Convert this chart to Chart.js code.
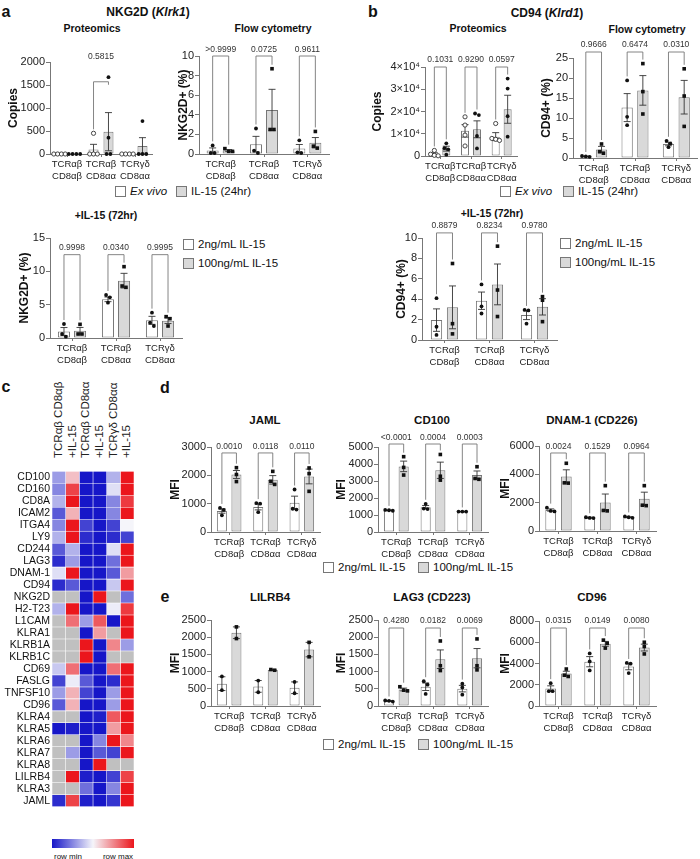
<!DOCTYPE html>
<html>
<head>
<meta charset="utf-8">
<script src="https://cdn.jsdelivr.net/npm/chart.js@4"></script>
<style>
body { margin: 0; width: 700px; height: 859px; position: relative; overflow: hidden; background: #fff;
       font-family: "Liberation Sans", Arial, sans-serif; color: #111; }
canvas { position: absolute; }
.t { position: absolute; white-space: nowrap; transform: translate(-50%, -50%); font-weight: bold; }
.lg { position: absolute; white-space: nowrap; font-size: 11.5px; display: flex; align-items: center; transform: translateY(-50%); }
.lg b { display: inline-block; width: 9px; height: 9px; border: 1px solid #777; margin-right: 4px; }
.col { position: absolute; white-space: nowrap; font-size: 11.5px; color: #222; line-height: 1;
       transform-origin: 0 0; transform: rotate(-90deg) translateY(-50%); }
</style>
</head>
<body>
<script>
const FONT = '"Liberation Sans", Arial, sans-serif';
const groups = [['TCRαβ', 'CD8αβ'], ['TCRαβ', 'CD8αα'], ['TCRγδ', 'CD8αα']];

// a - NKG2D proteomics (ex vivo / IL-15 24hr)
const nkProtMean = [[0, 100, 0], [0, 485, 175]];
const nkProtSem = [[0, 110, 0], [0, 415, 180]];
const nkProtPts = [[[0, 0, 0, 0], [450, 0, 0, 0], [0, 0, 0, 0]], [[0, 0, 0, 0], [1670, 355, 0, 0], [715, 0, 0, 0]]];
const nkProtP = ['', '0.5815', ''];
// a - NKG2D flow
const nkFlowMean = [[0.35, 1.0, 0.55], [0.36, 4.5, 1.15]];
const nkFlowSem = [[0.27, 0.8, 0.42], [0.09, 2.1, 0.53]];
const nkFlowPts = [[[0.88, 0.1, 0.1], [2.6, 0.35, 0.1], [1.4, 0.1, 0.17]], [[0.55, 0.27, 0.27], [8.7, 2.5, 2.5], [2.3, 0.8, 0.6]]];
const nkFlowP = ['>0.9999', '0.0725', '0.9611'];
// a - NKG2D +IL-15 72hr
const nk72Mean = [[0.97, 5.8, 2.65], [1.08, 8.6, 2.6]];
const nk72Sem = [[0.6, 0.35, 0.6], [0.5, 1.1, 0.43]];
const nk72Pts = [[[2.1, 0.6, 0.2], [6.45, 6.1, 5.3], [3.8, 2.3, 1.8]], [[2.05, 0.6, 0.6], [10.7, 7.8, 7.6], [3.2, 2.9, 1.8]]];
const nk72P = ['0.9998', '0.0340', '0.9995'];
// b - CD94 proteomics
const cdProtMean = [[900, 11300, 8700], [3300, 12000, 21000]];
const cdProtSem = [[550, 2800, 1800], [1100, 3800, 6300]];
const cdProtPts = [[[2500, 800, 300, 100], [17600, 13900, 9400, 4500], [14600, 7900, 7500, 7000]], [[5700, 3500, 3000, 600], [19100, 18400, 9000, 3400], [34800, 30300, 17900, 8700]]];
const cdProtP = ['0.1031', '0.9290', '0.0597'];
// b - CD94 flow
const cdFlowMean = [[0.4, 12.6, 3.5], [2.1, 16.9, 15.2]];
const cdFlowSem = [[0.06, 3.5, 0.45], [0.8, 3.7, 4.2]];
const cdFlowPts = [[[0.5, 0.4, 0.3], [19.4, 10.3, 8.2], [4.3, 3.6, 2.7]], [[3.5, 1.6, 1.2], [23.6, 16.6, 11.0], [22.3, 15.5, 7.9]]];
const cdFlowP = ['0.9666', '0.6474', '0.0310'];
// b - CD94 +IL-15 72hr
const cd72Mean = [[1.95, 3.85, 2.45], [3.2, 5.45, 3.25]];
const cd72Sem = [[1.1, 0.85, 0.45], [2.1, 2.0, 0.8]];
const cd72Pts = [[[4.1, 1.3, 0.5], [5.45, 3.3, 2.6], [2.95, 2.9, 1.6]], [[7.5, 1.6, 0.6], [9.2, 4.9, 2.3], [4.25, 3.9, 1.8]]];
const cd72P = ['0.8879', '0.8234', '0.9780'];
// d - MFI (2ng / 100ng IL-15)
const jamlMean = [[740, 880, 1035], [2030, 1840, 1960]];
const jamlSem = [[77, 100, 230], [140, 150, 260]];
const jamlPts = [[[850, 780, 590], [1020, 1000, 700], [1500, 820, 790]], [[2270, 2030, 1780], [2140, 1790, 1680], [2260, 2060, 1435]]];
const jamlP = ['0.0010', '0.0118', '0.0110'];
const cd100Mean = [[1275, 1460, 1200], [3860, 3630, 3360]];
const cd100Sem = [[15, 100, 10], [310, 480, 230]];
const cd100Pts = [[[1300, 1280, 1250], [1660, 1380, 1350], [1200, 1200, 1200]], [[4430, 3800, 3350], [4560, 3280, 3050], [3840, 3150, 3100]]];
const cd100P = ['<0.0001', '0.0004', '0.0003'];
const dnamMean = [[1480, 940, 970], [3850, 2020, 2270]];
const dnamSem = [[80, 30, 30], [470, 590, 470]];
const dnamPts = [[[1650, 1420, 1380], [970, 920, 910], [1030, 970, 930]], [[4780, 3400, 3380], [3200, 1450, 1420], [3200, 1820, 1790]]];
const dnamP = ['0.0024', '0.1529', '0.0964'];
// e - MFI
const lilrMean = [[650, 570, 530], [2130, 1050, 1640]];
const lilrSem = [[200, 170, 170], [170, 10, 210]];
const lilrPts = [[[860, 460], [740, 400], [700, 370]], [[2300, 1960], [1040, 1060], [1850, 1430]]];
const lag3Mean = [[145, 560, 505], [480, 1360, 1390]];
const lag3Sem = [[10, 110, 95], [40, 270, 280]];
const lag3Pts = [[[160, 150, 130], [720, 620, 350], [650, 540, 330]], [[560, 460, 440], [1890, 1170, 1030], [1950, 1170, 1050]]];
const lag3P = ['0.4280', '0.0182', '0.0069'];
const cd96Mean = [[1650, 4170, 3710], [3050, 5850, 5500]];
const cd96Sem = [[250, 480, 300], [220, 230, 320]];
const cd96Pts = [[[2150, 1400, 1400], [4950, 4200, 3350], [4050, 3980, 3100]], [[3480, 2900, 2780], [6200, 5900, 5450], [6000, 5600, 4900]]];
const cd96P = ['0.0315', '0.0149', '0.0080'];

// c - heatmap (0 = row min, 1 = row max, null = not detected)
const heatCols = ['TCRαβ CD8αβ', '+IL-15', 'TCRαβ CD8αα', '+IL-15', 'TCRγδ CD8αα', '+IL-15'];
const heatGenes = ['CD100', 'CD160', 'CD8A', 'ICAM2', 'ITGA4', 'LY9', 'CD244', 'LAG3', 'DNAM-1', 'CD94',
  'NKG2D', 'H2-T23', 'L1CAM', 'KLRA1', 'KLRB1A', 'KLRB1C', 'CD69', 'FASLG', 'TNFSF10', 'CD96',
  'KLRA4', 'KLRA5', 'KLRA6', 'KLRA7', 'KLRA8', 'LILRB4', 'KLRA3', 'JAML'];
const heatVals = [
  [0.3, 0.62, 0, 0, 0.35, 1],
  [0.25, 0.9, 0, 0, 0.45, 1],
  [0.35, 1, 0, 0, 0.25, 0.92],
  [0.15, 0.65, 0, 0, 0.25, 1],
  [0.25, 1, 0.1, 0, 0.1, 0.5],
  [0.35, 1, 0.05, 0, 0.05, 0.1],
  [0.15, 0.35, 0, 0, 0.45, 1],
  [0.05, 0.3, 0, 0, 0.2, 1],
  [0.45, 1, 0, 0, 0.15, 0.7],
  [0.05, 0.15, 0, 0, 0.4, 1],
  [null, null, 0, 1, null, 0.2],
  [0.35, 1, 0, 0, 0.48, 0.92],
  [null, 0.8, 0.3, 0.85, 0, 1],
  [null, null, 0, 0.7, null, 1],
  [null, null, 1, 0, 0.75, 0.3],
  [null, null, 1, 0, null, null],
  [0.4, 0.8, 0, 0, 0.8, 1],
  [0.1, 0.48, 0.15, 0, 0.05, 1],
  [0.3, 0.65, 0.1, 0, 0.3, 1],
  [0.15, 0.65, 0, 0, 0.3, 1],
  [null, null, 0, 0.02, 0.85, 1],
  [0, 0.02, 0, 0, 0.7, 1],
  [null, null, 0, 0.25, 1, 0.75],
  [null, 0.3, 0, 0.15, 0.1, 1],
  [null, null, 0, 1, null, null],
  [null, 1, 0.02, 0, 0.1, 0.9],
  [null, null, 0.2, 0, 0.25, 1],
  [0.05, 0.9, 0.02, 0, 0.07, 1]
];

// ---------- heatmap (built first, own scale ids) ----------
function heatColor(v) {
  if (v === null) return 'rgb(192,192,192)';
  const B = [22, 22, 200], W = [245, 245, 250], R = [235, 22, 28];
  const [a, b, t] = v < 0.5 ? [B, W, v / 0.5] : [W, R, (v - 0.5) / 0.5];
  return 'rgb(' + a.map((c, i) => Math.round(c + (b[i] - c) * t)).join(',') + ')';
}
const hc = document.createElement('canvas');
hc.width = 136; hc.height = 352;
hc.style.left = '0px'; hc.style.top = '463px';
hc.style.width = '136px'; hc.style.height = '352px';
document.body.appendChild(hc);
const heat = new Chart(hc, {
  type: 'bar',
  data: {
    labels: heatGenes,
    datasets: heatCols.map((c, k) => ({
      label: c, xAxisID: 'hx', yAxisID: 'hy',
      data: heatGenes.map(() => 1),
      backgroundColor: heatVals.map(r => heatColor(r[k])),
      borderColor: 'rgba(255,255,255,0.75)', borderWidth: 0.6, borderSkipped: false,
      categoryPercentage: 1, barPercentage: 1
    }))
  },
  options: {
    indexAxis: 'y', responsive: false, maintainAspectRatio: false, animation: false, devicePixelRatio: 1,
    layout: { autoPadding: false, padding: { left: 0, top: 0, right: 2, bottom: 0 } },
    plugins: { legend: { display: false }, tooltip: { enabled: false } },
    scales: {
      hx: { axis: 'x', type: 'linear', position: 'bottom', stacked: true, min: 0, max: 6, display: false,
            afterFit: sc => { sc.height = 0; } },
      hy: {
        axis: 'y', type: 'category', position: 'left', stacked: true, offset: true,
        grid: { display: false, drawTicks: false }, border: { display: false },
        ticks: { color: '#111', font: { size: 10.5, family: FONT }, padding: 2, autoSkip: false },
        afterFit: sc => { sc.width = 52; }
      }
    }
  }
});
// column labels, rotated, centred on the columns of the chart's x scale
heatCols.forEach((c, k) => {
  const d = document.createElement('div');
  d.className = 'col';
  d.textContent = c;
  d.style.left = heat.scales.hx.getPixelForValue(k + 0.5) + 'px';
  d.style.top = '458px';
  document.body.appendChild(d);
});
const cbar = document.createElement('div');
Object.assign(cbar.style, { position: 'absolute', left: '52px', top: '839px', width: '82px', height: '9px',
  background: 'linear-gradient(to right, rgb(22,22,200), rgb(245,245,250), rgb(235,22,28))' });
document.body.appendChild(cbar);

// ---------- text / legends ----------
function txt(html, x, y, size, extra) {
  const d = document.createElement('div');
  d.className = 't';
  d.style.left = x + 'px'; d.style.top = y + 'px'; d.style.fontSize = size + 'px';
  if (extra) Object.assign(d.style, extra);
  d.innerHTML = html;
  document.body.appendChild(d);
}
function legend(x, y, fill, label) {
  const d = document.createElement('div');
  d.className = 'lg';
  d.style.left = x + 'px'; d.style.top = y + 'px';
  d.innerHTML = `<b style="background:${fill}"></b><span>${label}</span>`;
  document.body.appendChild(d);
}

txt('row min', 68, 856, 8, { fontWeight: 'normal' });
txt('row max', 118, 856, 8, { fontWeight: 'normal' });
[['a', 6, 12], ['b', 373, 12], ['c', 6, 387], ['d', 165, 388], ['e', 165, 597]]
  .forEach(([s, x, y]) => txt(s, x, y, 16));
txt('NKG2D (<i>Klrk1</i>)', 148, 12, 12);
txt('Proteomics', 92, 28, 10.5);
txt('Flow cytometry', 273, 28, 10.5);
txt('+IL-15 (72hr)', 106, 215, 10.5);
txt('CD94 (<i>Klrd1</i>)', 547, 13, 12);
txt('Proteomics', 478, 28, 10.5);
txt('Flow cytometry', 647, 29, 10.5);
txt('+IL-15 (72hr)', 492, 213, 10.5);
txt('JAML', 265, 420, 11.5); txt('CD100', 432, 420, 11.5); txt('DNAM-1 (CD226)', 592, 420, 11.5);
txt('LILRB4', 270, 597, 11.5); txt('LAG3 (CD223)', 432, 597, 11.5); txt('CD96', 592, 597, 11.5);

const WHITE = '#ffffff', GREY = '#d9d9d9';
legend(115, 191, WHITE, '<i>Ex vivo</i>'); legend(176, 191, GREY, 'IL-15 (24hr)');
legend(500, 191, WHITE, '<i>Ex vivo</i>'); legend(563, 191, GREY, 'IL-15 (24hr)');
legend(183, 244, WHITE, '2ng/mL IL-15'); legend(183, 263, GREY, '100ng/mL IL-15');
legend(560, 243, WHITE, '2ng/mL IL-15'); legend(560, 262, GREY, '100ng/mL IL-15');
legend(323, 567, WHITE, '2ng/mL IL-15'); legend(418, 567, GREY, '100ng/mL IL-15');
legend(323, 744, WHITE, '2ng/mL IL-15'); legend(418, 744, GREY, '100ng/mL IL-15');

// ---------- bar charts ----------
function drawDot(ctx, x, y, shape) {
  if (shape === 'square') { ctx.fillRect(x - 1.8, y - 1.8, 3.6, 3.6); return; }
  ctx.beginPath();
  ctx.arc(x, y, shape === 'hollow' ? 2.1 : 1.9, 0, Math.PI * 2);
  if (shape === 'hollow') { ctx.fillStyle = '#fff'; ctx.fill(); ctx.stroke(); ctx.fillStyle = '#111'; }
  else ctx.fill();
}

function makeExtras(s) {
  return {
    id: 'extras_' + s.id,
    afterDatasetsDraw(chart) {
      const ctx = chart.ctx, ys = chart.scales.y, ca = chart.chartArea;
      ctx.save();
      // y title
      ctx.save();
      ctx.translate(8, (ca.top + ca.bottom) / 2);
      ctx.rotate(-Math.PI / 2);
      ctx.font = 'bold 12px ' + FONT; ctx.textAlign = 'center'; ctx.textBaseline = 'middle'; ctx.fillStyle = '#111';
      ctx.fillText(s.title, 0, 0);
      ctx.restore();

      const tops = [[], []];
      for (let d = 0; d < 2; d++) {
        chart.getDatasetMeta(d).data.forEach((el, j) => {
          const m = s.mean[d][j], e = s.sem[d][j], x = el.x;
          ctx.strokeStyle = '#333'; ctx.fillStyle = '#111'; ctx.lineWidth = 0.9;
          if (e > 0) {
            const y1 = ys.getPixelForValue(m + e), y2 = ys.getPixelForValue(Math.max(0, m - e));
            ctx.beginPath();
            ctx.moveTo(x, y1); ctx.lineTo(x, y2);
            ctx.moveTo(x - 3.5, y1); ctx.lineTo(x + 3.5, y1);
            ctx.moveTo(x - 3.5, y2); ctx.lineTo(x + 3.5, y2);
            ctx.stroke();
          }
          const pts = s.pts[d][j].map(v => ({ v, py: ys.getPixelForValue(v) })).sort((a, b) => a.py - b.py);
          let i = 0;
          while (i < pts.length) {
            let k = i;
            while (k + 1 < pts.length && pts[k + 1].py - pts[k].py < 3.5) k++;
            const n = k - i + 1;
            for (let q = i; q <= k; q++) drawDot(ctx, x + (q - i - (n - 1) / 2) * 3.8, pts[q].py, s.shapes[d]);
            i = k + 1;
          }
          tops[d][j] = ys.getPixelForValue(Math.max(m + e, ...s.pts[d][j]));
        });
      }
      if (s.p) {
        const top = ys.getPixelForValue(s.br);
        ctx.strokeStyle = '#777'; ctx.lineWidth = 0.9;
        ctx.font = '8.5px ' + FONT; ctx.textAlign = 'center'; ctx.textBaseline = 'middle'; ctx.fillStyle = '#333';
        s.p.forEach((p, j) => {
          if (!p) return;
          const xa = chart.getDatasetMeta(0).data[j].x, xb = chart.getDatasetMeta(1).data[j].x;
          const ya = Math.max(top + 3, tops[0][j] - 4), yb = Math.max(top + 3, tops[1][j] - 4);
          ctx.beginPath();
          ctx.moveTo(xa, ya); ctx.lineTo(xa, top); ctx.lineTo(xb, top); ctx.lineTo(xb, yb);
          ctx.stroke();
          ctx.fillText(p, (xa + xb) / 2, top - s.gap);
        });
      }
      ctx.restore();
    }
  };
}

function barChart(s) {
  const left = s.titleX - 8, top = s.yt - 34;
  const w = s.xr - left + 3, h = s.yb - top + 32;
  const cv = document.createElement('canvas');
  cv.width = w; cv.height = h;
  cv.style.left = left + 'px'; cv.style.top = top + 'px';
  cv.style.width = w + 'px'; cv.style.height = h + 'px';
  document.body.appendChild(cv);
  const ds = (d, fill) => ({
    data: s.mean[d], backgroundColor: fill, borderColor: '#777', borderWidth: 1, borderSkipped: false,
    categoryPercentage: s.cp, barPercentage: s.bp
  });
  new Chart(cv, {
    type: 'bar',
    data: { labels: groups, datasets: [ds(0, WHITE), ds(1, GREY)] },
    options: {
      responsive: false, maintainAspectRatio: false, animation: false, devicePixelRatio: 1,
      layout: { autoPadding: false, padding: { left: 0, top: 34, right: 3, bottom: 0 } },
      plugins: { legend: { display: false }, tooltip: { enabled: false } },
      scales: {
        x: {
          grid: { drawOnChartArea: false, offset: false, tickLength: 3, color: '#777' },
          border: { color: '#777', width: 1 },
          ticks: { color: '#222', font: { size: 9.5, family: FONT, lineHeight: 1.3 }, padding: 1, maxRotation: 0, autoSkip: false },
          afterFit: sc => { sc.height = 32; }
        },
        y: {
          min: 0, max: s.max,
          grid: { drawOnChartArea: false, tickLength: 4, color: '#777' },
          border: { color: '#777', width: 1 },
          ticks: { stepSize: s.step, color: '#222', font: { size: 11, family: FONT }, padding: 1,
                   callback: s.fmt || (v => v) },
          afterFit: sc => { sc.width = s.xl - left; }
        }
      }
    },
    plugins: [makeExtras(s)]
  });
}

const sci = v => v === 0 ? '0' : (v / 10000) + '×10⁴';
const OPEN = ['hollow', 'dot'], FILL = ['dot', 'square'];
const specs = [
  { id: 'a1', xl: 50, xr: 152, yt: 62, yb: 154, max: 2000, step: 500, titleX: 14, title: 'Copies', cp: 0.88, bp: 0.67,
    mean: nkProtMean, sem: nkProtSem, pts: nkProtPts, p: nkProtP, br: 1570, gap: 25, shapes: OPEN },
  { id: 'a2', xl: 199, xr: 329, yt: 56, yb: 154, max: 10, step: 2, titleX: 184, title: 'NKG2D+ (%)', cp: 0.74, bp: 0.75,
    mean: nkFlowMean, sem: nkFlowSem, pts: nkFlowPts, p: nkFlowP, br: 10, gap: 6, shapes: FILL },
  { id: 'a3', xl: 50, xr: 182, yt: 238, yb: 338, max: 15, step: 5, titleX: 25, title: 'NKG2D+ (%)', cp: 0.73, bp: 0.75,
    mean: nk72Mean, sem: nk72Sem, pts: nk72Pts, p: nk72P, br: 12.5, gap: 7, shapes: FILL },
  { id: 'b1', xl: 425, xr: 517, yt: 67, yb: 156, max: 40000, step: 10000, titleX: 378, title: 'Copies', cp: 0.78, bp: 0.67,
    mean: cdProtMean, sem: cdProtSem, pts: cdProtPts, p: cdProtP, br: 40000, gap: 7, shapes: OPEN, fmt: sci },
  { id: 'b2', xl: 573, xr: 697, yt: 58, yb: 158, max: 25, step: 5, titleX: 547, title: 'CD94+ (%)', cp: 0.76, bp: 0.72,
    mean: cdFlowMean, sem: cdFlowSem, pts: cdFlowPts, p: cdFlowP, br: 26.5, gap: 7, shapes: FILL },
  { id: 'b3', xl: 422, xr: 557, yt: 238, yb: 340, max: 10, step: 2, titleX: 402, title: 'CD94+ (%)', cp: 0.71, bp: 0.7,
    mean: cd72Mean, sem: cd72Sem, pts: cd72Pts, p: cd72P, br: 10.5, gap: 7, shapes: FILL },
  { id: 'd1', xl: 211, xr: 320, yt: 447, yb: 532, max: 3000, step: 1000, titleX: 176, title: 'MFI', cp: 0.8, bp: 0.69,
    mean: jamlMean, sem: jamlSem, pts: jamlPts, p: jamlP, br: 2790, gap: 6, shapes: FILL },
  { id: 'd2', xl: 378, xr: 488, yt: 447, yb: 532, max: 5000, step: 1000, titleX: 342, title: 'MFI', cp: 0.8, bp: 0.69,
    mean: cd100Mean, sem: cd100Sem, pts: cd100Pts, p: cd100P, br: 5176, gap: 6, shapes: FILL },
  { id: 'd3', xl: 539, xr: 656, yt: 446, yb: 531, max: 6000, step: 2000, titleX: 506, title: 'MFI', cp: 0.8, bp: 0.69,
    mean: dnamMean, sem: dnamSem, pts: dnamPts, p: dnamP, br: 5506, gap: 6, shapes: FILL },
  { id: 'e1', xl: 211, xr: 320, yt: 620, yb: 706, max: 2500, step: 500, titleX: 176, title: 'MFI', cp: 0.8, bp: 0.69,
    mean: lilrMean, sem: lilrSem, pts: lilrPts, p: null, shapes: FILL },
  { id: 'e2', xl: 378, xr: 488, yt: 620, yb: 706, max: 2500, step: 500, titleX: 342, title: 'MFI', cp: 0.8, bp: 0.69,
    mean: lag3Mean, sem: lag3Sem, pts: lag3Pts, p: lag3P, br: 2267, gap: 7, shapes: FILL },
  { id: 'e3', xl: 539, xr: 656, yt: 621, yb: 706, max: 8000, step: 2000, titleX: 506, title: 'MFI', cp: 0.8, bp: 0.69,
    mean: cd96Mean, sem: cd96Sem, pts: cd96Pts, p: cd96P, br: 7341, gap: 7, shapes: FILL }
];
specs.forEach(barChart);
</script>
</body>
</html>
